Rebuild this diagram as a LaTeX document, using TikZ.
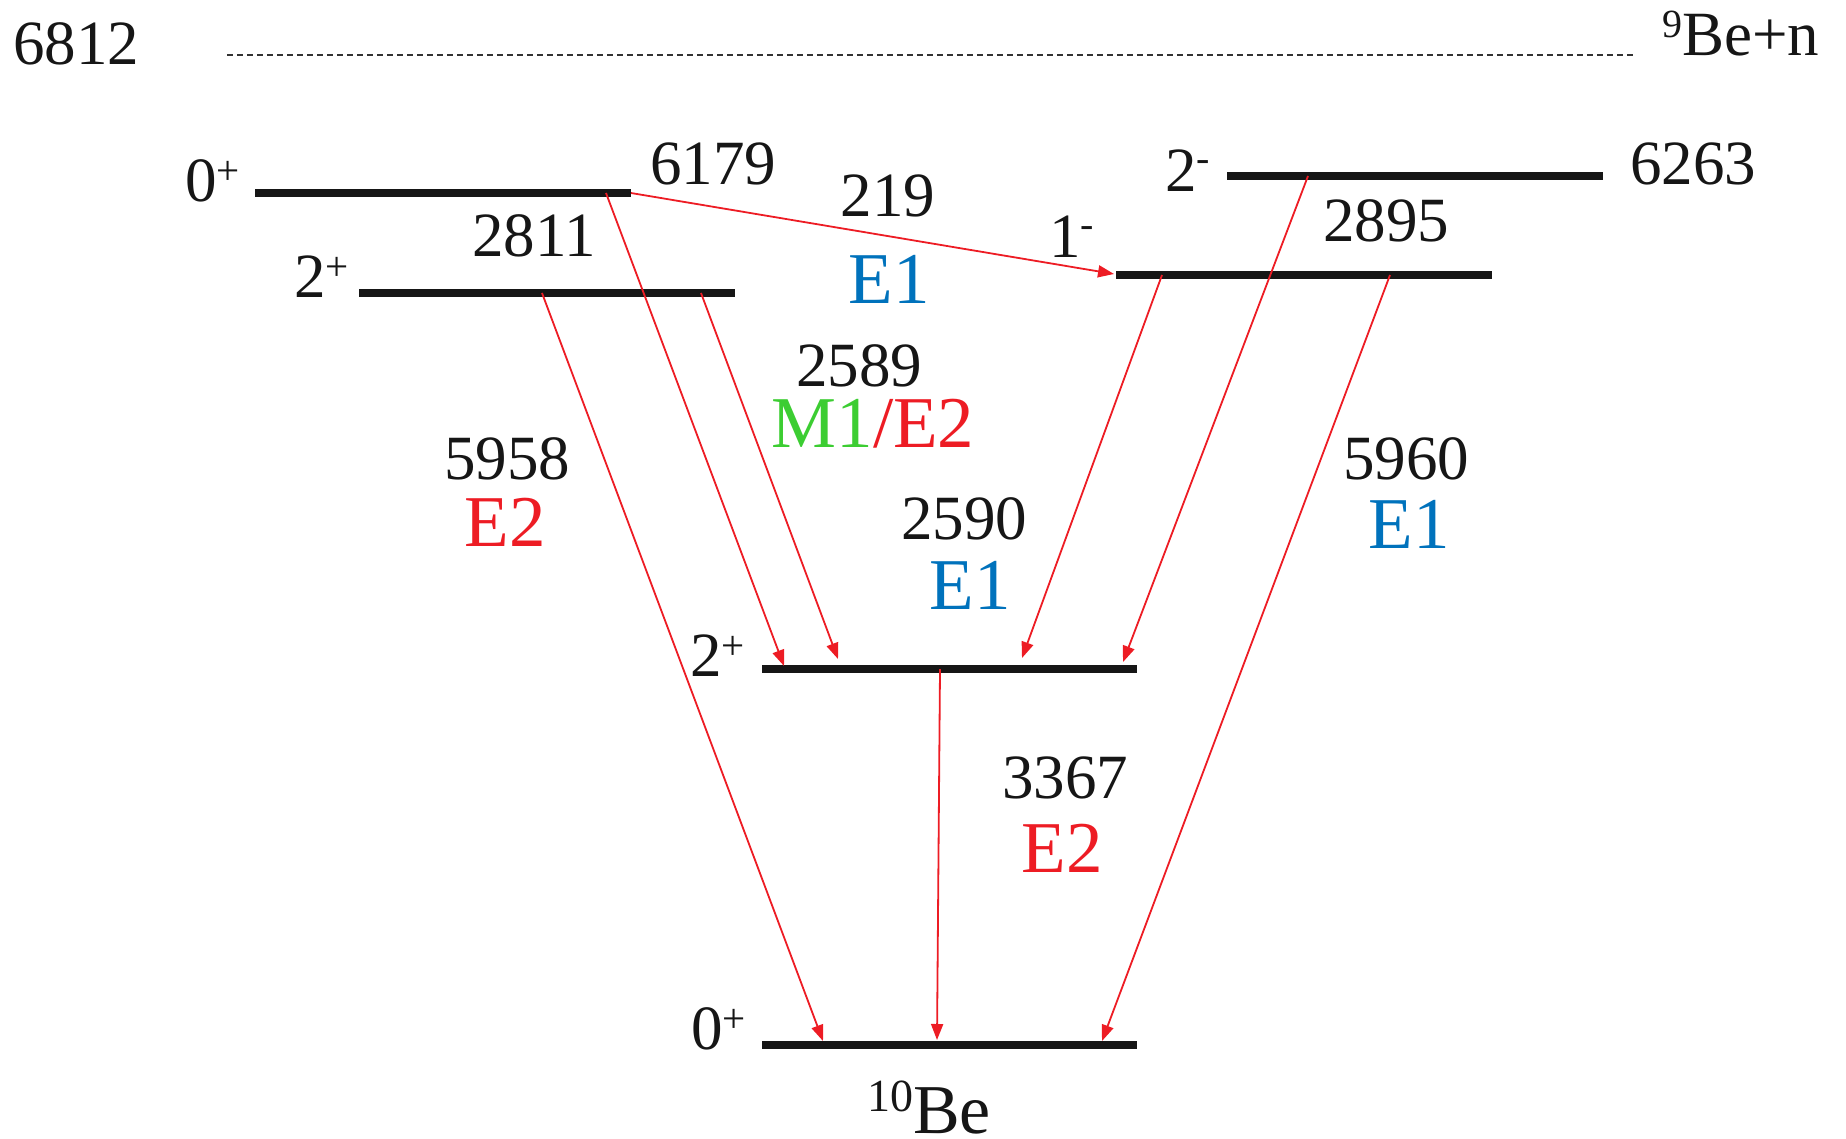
\documentclass[tikz,border=0pt]{standalone}
\usepackage{fontspec}
\setmainfont{Liberation Serif}
\usetikzlibrary{arrows.meta}
\definecolor{gred}{RGB}{237,28,36}
\definecolor{gblue}{RGB}{0,114,188}
\definecolor{ggreen}{RGB}{60,205,50}
\definecolor{ink}{RGB}{22,22,22}
\newcommand{\spp}{\raisebox{17pt}{\fontsize{41}{41}\selectfont +}}
\newcommand{\spm}{\raisebox{20pt}{\fontsize{40}{40}\selectfont -}}
\begin{document}
\begin{tikzpicture}[x=1pt,y=-1pt,
 txt/.style={inner sep=0pt, text=ink, font=\fontsize{63}{70}\selectfont, anchor=base},
 mult/.style={inner sep=0pt, font=\fontsize{73}{80}\selectfont, anchor=base},
 spin/.style={inner sep=0pt, text=ink, font=\fontsize{63}{70}\selectfont, anchor=base west},
 lev/.style={draw=ink, line width=7.5pt},
 gam/.style={draw=gred, line width=1.8pt, -{Triangle[length=16pt,width=12pt]}},
 sep/.style={draw=black!80, line width=2.2pt, dash pattern=on 6pt off 4pt}]
\useasboundingbox (0,0) rectangle (1846,1138);

% separation energy
\coordinate (Sw) at (227,55);
\coordinate (Se) at (1633,55);
\draw[sep] (Sw) -- (Se);
\node[txt] (t6812) at (76,64) {6812};
\node[inner sep=0pt, text=ink, anchor=base west] (tBen) at (1662,55)
  {\fontsize{63}{70}\selectfont\raisebox{18pt}{\fontsize{40}{40}\selectfont 9}Be+n};

% levels
\coordinate (A1) at (255,193);  \coordinate (A2) at (631,193);   % 0+ 6179
\coordinate (B1) at (359,293);  \coordinate (B2) at (735,293);   % 2+ 5958
\coordinate (C1) at (1227,176); \coordinate (C2) at (1603,176);  % 2- 6263
\coordinate (D1) at (1116,275); \coordinate (D2) at (1492,275);  % 1- 5960
\coordinate (E1) at (762,669);  \coordinate (E2) at (1137,669);  % 2+ 3368
\coordinate (G1) at (762,1045); \coordinate (G2) at (1137,1045); % 0+ g.s.
\draw[lev] (A1) -- (A2);
\draw[lev] (B1) -- (B2);
\draw[lev] (C1) -- (C2);
\draw[lev] (D1) -- (D2);
\draw[lev] (E1) -- (E2);
\draw[lev] (G1) -- (G2);

% spin labels
\node[spin] (sA) at (185,201) {0\spp};
\node[spin] (sB) at (294,297) {2\spp};
\node[spin] (sC) at (1165,191) {2\spm};
\node[spin] (sD) at (1049,257) {1\spm};
\node[spin] (sE) at (690,676) {2\spp};
\node[spin] (sG) at (691,1049) {0\spp};

% energies of levels
\node[txt] (e6179) at (713,184) {6179};
\node[txt] (e6263) at (1693,184) {6263};
\node[inner sep=0pt, text=ink, anchor=base west] (tBe) at (867,1133)
  {\fontsize{70}{74}\selectfont\raisebox{22pt}{\fontsize{46}{46}\selectfont 10}Be};

% gamma transitions
\coordinate (a0) at (631,193);  \coordinate (a1) at (1114,274);
\coordinate (b0) at (606,193);  \coordinate (b1) at (784,666);
\coordinate (c0) at (701,293);  \coordinate (c1) at (838,659);
\coordinate (d0) at (542,293);  \coordinate (d1) at (823,1041);
\coordinate (f0) at (1162,275); \coordinate (f1) at (1022,658);
\coordinate (h0) at (1308,176); \coordinate (h1) at (1123,662);
\coordinate (k0) at (1390,275); \coordinate (k1) at (1102,1041);
\coordinate (m0) at (940,669);  \coordinate (m1) at (937,1040);
\draw[gam] (a0) -- (a1);
\draw[gam] (b0) -- (b1);
\draw[gam] (c0) -- (c1);
\draw[gam] (d0) -- (d1);
\draw[gam] (f0) -- (f1);
\draw[gam] (h0) -- (h1);
\draw[gam] (k0) -- (k1);
\draw[gam] (m0) -- (m1);

% transition labels
\node[txt] (g219) at (888,216) {219};
\node[mult, text=gblue] (m219) at (889,303) {E1};
\node[txt] (g2811) at (534,256) {2811};
\node[txt] (g2895) at (1386,241) {2895};
\node[txt] (g2589) at (859,386) {2589};
\node[mult] (m2589) at (873,447) {\textcolor{ggreen}{M1}\textcolor{gred}{/E2}};
\node[txt] (g5958) at (507,479) {5958};
\node[mult, text=gred] (m5958) at (505,546) {E2};
\node[txt] (g2590) at (964,539) {2590};
\node[mult, text=gblue] (m2590) at (970,609) {E1};
\node[txt] (g5960) at (1406,479) {5960};
\node[mult, text=gblue] (m5960) at (1409,548) {E1};
\node[txt] (g3367) at (1065,798) {3367};
\node[mult, text=gred] (m3367) at (1062,872) {E2};
\end{tikzpicture}
\end{document}
